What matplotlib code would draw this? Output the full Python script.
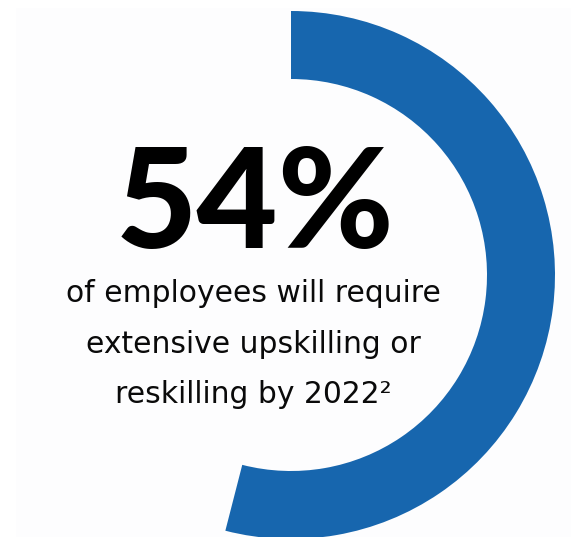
import matplotlib
matplotlib.use("Agg")
import matplotlib.pyplot as plt
from matplotlib.patches import Rectangle

# data
share_values = [54, 46]
headline = "54%"
caption_lines = ["of employees will require",
                 "extensive upskilling or",
                 "reskilling by 2022\u00b2"]

W, H = 571, 537
fig = plt.figure(figsize=(W / 100, H / 100), dpi=100)
fig.patch.set_facecolor("white")
ax = fig.add_axes([0, 0, 1, 1])

# faint panel frame
ax.add_patch(Rectangle((16, 0), W - 16, H - 8, facecolor="#fdfdfe",
                       edgecolor="none", zorder=0))

cx, cy = 291, H - 275
ax.pie(share_values, center=(cx, cy), radius=264, startangle=90,
       counterclock=False, colors=["#1766ae", "none"],
       wedgeprops=dict(width=68, edgecolor="none"))

ax.set_xlim(0, W)
ax.set_ylim(0, H)
ax.set_aspect("auto")
ax.set_axis_off()

ax.text(255, H - 248, headline, ha="center", va="baseline",
        fontsize=101, fontweight="black", family=["Lato", "DejaVu Sans"],
        color="#000000")

baselines = [302, 353, 403]
for line, b in zip(caption_lines, baselines):
    ax.text(253, H - b, line, ha="center", va="baseline", fontsize=21.4,
            family=["DejaVu Sans"], color="#0a0a0a")

fig.savefig("out.png", dpi=100, facecolor="white")
